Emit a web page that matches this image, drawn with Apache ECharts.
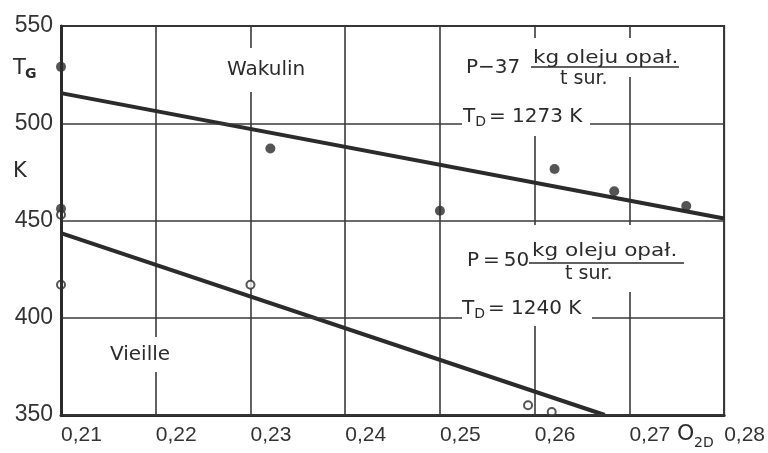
<!DOCTYPE html>
<html><head><meta charset="utf-8">
<script src="https://cdn.jsdelivr.net/npm/echarts@6/dist/echarts.min.js"></script>
<style>html,body{margin:0;padding:0;background:#fff}#c{width:768px;height:453px}</style>
</head><body><div id="c"></div><script>
// ---- data ----
const filledPoints = [[0.21,529],[0.21,456],[0.2321,487],[0.25,455],[0.2621,476.5],[0.2684,465],[0.2760,457.5]];
const openPoints = [[0.21,453],[0.21,417],[0.23,417],[0.2593,355],[0.2618,351.5]];
const lineP37 = [[0.21,515.5],[0.28,451]];
const lineP50 = [[0.21,443.5],[0.2674,350]];
const xMin = 0.21, xMax = 0.28, xStep = 0.01;
const yMin = 350, yMax = 550, yStep = 50;
const labelWakulin = 'Wakulin';
const labelVieille = 'Vieille';
const frac = 'kg oleju opał.';
const fracDen = 't sur.';

const INK = '#2b2b2b';
const NUM = '"Liberation Sans", Arial, sans-serif';
const ANN = '"DejaVu Sans", sans-serif';

const chart = echarts.init(document.getElementById('c'), null, {renderer:'canvas'});
function txt(x, y, text, size, extra) {
  return Object.assign({type:'text', x:x, y:y, z:10,
    style:{text:text, font: size + 'px ' + ANN, fill: INK, align:'left', verticalAlign:'middle'}}, extra || {});
}
function rect(x, y, w, h) {
  return {type:'rect', z:6, shape:{x:x, y:y, width:w, height:h}, style:{fill:'#fff'}, silent:true};
}
function hline(x1, x2, y) {
  return {type:'line', z:10, shape:{x1:x1, y1:y, x2:x2, y2:y}, style:{stroke:INK, lineWidth:1.6}};
}
const subRich = {
  m:{fontSize:20, fontFamily:ANN, color:INK},
  s:{fontSize:14, fontFamily:ANN, color:INK, padding:[10,3,0,0]}
};
function rich(x, y, text, extra) {
  return Object.assign({type:'text', x:x, y:y, z:10,
    style:{text:text, rich:subRich, align:'left', verticalAlign:'middle', fill:INK}}, extra || {});
}

chart.setOption({
  animation:false,
  backgroundColor:'#fff',
  grid:{left:61, right:38, top:26, bottom:38, show:true, borderColor:INK, borderWidth:2, backgroundColor:'transparent'},
  xAxis:{type:'value', min:xMin, max:xMax, interval:xStep,
    axisLine:{show:true, lineStyle:{color:INK, width:3}},
    axisTick:{show:false},
    splitLine:{show:true, lineStyle:{color:'#3a3a3a', width:1.6}},
    axisLabel:{color:'#333', fontSize:21, fontFamily:NUM, margin:10, align:'left',
      formatter:v => v.toFixed(2).replace('.', ',')}
  },
  yAxis:{type:'value', min:yMin, max:yMax, interval:yStep, z:3,
    axisLine:{show:true, lineStyle:{color:INK, width:3}},
    axisTick:{show:false},
    splitLine:{show:true, lineStyle:{color:'#3a3a3a', width:1.6}},
    axisLabel:{color:'#333', fontSize:23, fontFamily:NUM, margin:8}
  },
  series:[
    {type:'line', data:lineP37, showSymbol:false, symbol:'none', lineStyle:{color:INK, width:4}, z:2},
    {type:'line', data:lineP50, showSymbol:false, symbol:'none', lineStyle:{color:INK, width:4}, z:2},
    {type:'scatter', data:filledPoints, symbol:'circle', symbolSize:10, itemStyle:{color:INK}, z:2},
    {type:'scatter', data:openPoints, symbol:'circle', symbolSize:8, itemStyle:{color:'#fff', borderColor:INK, borderWidth:2}, z:2}
  ],
  graphic:[
    // gaps in grid lines under annotations
    rect(222, 48, 92, 44),
    rect(106, 337, 68, 35),
    rect(462, 38, 128, 98),
    rect(590, 38, 92, 39),
    rect(462, 225, 130, 101),
    rect(592, 225, 94, 67),
    // axis titles
    txt(13, 69, 'T', 21),
    txt(25, 74, 'G', 14, {style:{text:'G', font:'bold 14px ' + ANN, fill:INK, align:'left', verticalAlign:'middle'}}),
    txt(13, 172, 'K', 21),
    txt(677, 434, 'O', 22),
    txt(694, 443, '2D', 14),
    // curve labels
    txt(227, 70, labelWakulin, 20),
    txt(110, 355, labelVieille, 20),
    // P = 37 block
    txt(466, 68, 'P−37', 20),
    txt(533, 58, frac, 18, {scaleX:1.2}),
    hline(531, 679, 67),
    txt(560, 79, fracDen, 19),
    rich(463, 117, '{m|T}{s|D}{m|= 1273 K}'),
    // P = 50 block
    txt(467, 261, 'P\u2009=\u200950', 20),
    txt(532, 251, frac, 18, {scaleX:1.2}),
    hline(529, 684, 263),
    txt(565, 274, fracDen, 19),
    rich(462, 309, '{m|T}{s|D}{m|= 1240 K}')
  ]
});
</script></body></html>
